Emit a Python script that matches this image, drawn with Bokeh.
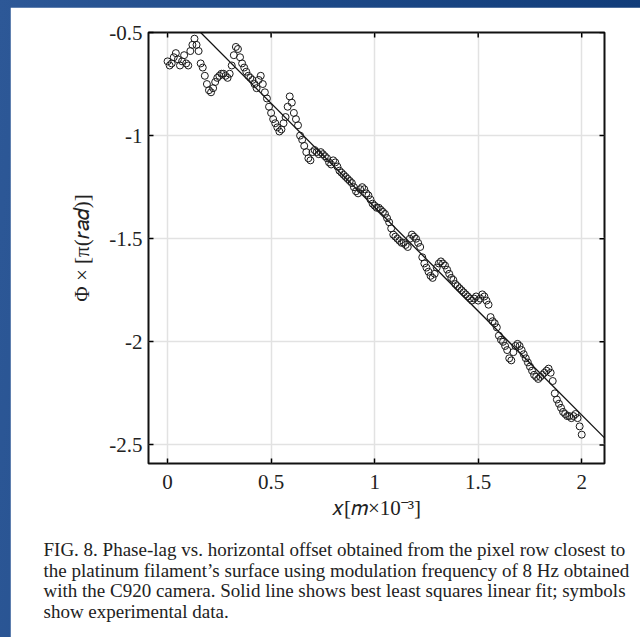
import math

from bokeh.plotting import figure
from bokeh.models import Range1d, FixedTicker, Title
from bokeh.layouts import column
from bokeh.embed import file_html
from bokeh.resources import INLINE

# Horizontal offset x [mm] and measured phase lag [units of pi rad]
offset_mm = [
    0.00, 0.01, 0.02, 0.03, 0.04, 0.05, 0.06, 0.07, 0.08, 0.09,
    0.10, 0.11, 0.12, 0.13, 0.14, 0.15, 0.16, 0.17, 0.18, 0.19,
    0.20, 0.21, 0.22, 0.23, 0.24, 0.25, 0.26, 0.27, 0.28, 0.29,
    0.30, 0.31, 0.32, 0.33, 0.34, 0.35, 0.36, 0.37, 0.38, 0.39,
    0.40, 0.41, 0.42, 0.43, 0.44, 0.45, 0.46, 0.47, 0.48, 0.49,
    0.50, 0.51, 0.52, 0.53, 0.54, 0.55, 0.56, 0.57, 0.58, 0.59,
    0.60, 0.61, 0.62, 0.63, 0.64, 0.65, 0.66, 0.67, 0.68, 0.69,
    0.70, 0.71, 0.72, 0.73, 0.74, 0.75, 0.76, 0.77, 0.78, 0.79,
    0.80, 0.81, 0.82, 0.83, 0.84, 0.85, 0.86, 0.87, 0.88, 0.89,
    0.90, 0.91, 0.92, 0.93, 0.94, 0.95, 0.96, 0.97, 0.98, 0.99,
    1.00, 1.01, 1.02, 1.03, 1.04, 1.05, 1.06, 1.07, 1.08, 1.09,
    1.10, 1.11, 1.12, 1.13, 1.14, 1.15, 1.16, 1.17, 1.18, 1.19,
    1.20, 1.21, 1.22, 1.23, 1.24, 1.25, 1.26, 1.27, 1.28, 1.29,
    1.30, 1.31, 1.32, 1.33, 1.34, 1.35, 1.36, 1.37, 1.38, 1.39,
    1.40, 1.41, 1.42, 1.43, 1.44, 1.45, 1.46, 1.47, 1.48, 1.49,
    1.50, 1.51, 1.52, 1.53, 1.54, 1.55, 1.56, 1.57, 1.58, 1.59,
    1.60, 1.61, 1.62, 1.63, 1.64, 1.65, 1.66, 1.67, 1.68, 1.69,
    1.70, 1.71, 1.72, 1.73, 1.74, 1.75, 1.76, 1.77, 1.78, 1.79,
    1.80, 1.81, 1.82, 1.83, 1.84, 1.85, 1.86, 1.87, 1.88, 1.89,
    1.90, 1.91, 1.92, 1.93, 1.94, 1.95, 1.96, 1.97, 1.98, 1.99,
    2.00,
]
phase_lag = [
    -0.64, -0.66, -0.65, -0.62, -0.60, -0.63, -0.66, -0.64, -0.61, -0.65,
    -0.66, -0.59, -0.56, -0.53, -0.56, -0.59, -0.65, -0.67, -0.71, -0.75,
    -0.78, -0.79, -0.77, -0.74, -0.72, -0.71, -0.70, -0.70, -0.71, -0.72,
    -0.70, -0.66, -0.61, -0.57, -0.58, -0.62, -0.65, -0.67, -0.69, -0.71,
    -0.72, -0.73, -0.75, -0.77, -0.73, -0.71, -0.75, -0.79, -0.82, -0.86,
    -0.89, -0.92, -0.94, -0.96, -0.98, -0.97, -0.94, -0.91, -0.86, -0.81,
    -0.84, -0.89, -0.92, -0.95, -1.00, -1.02, -1.05, -1.08, -1.11, -1.12,
    -1.08, -1.07, -1.08, -1.09, -1.08, -1.09, -1.10, -1.11, -1.13, -1.14,
    -1.12, -1.13, -1.15, -1.17, -1.18, -1.19, -1.20, -1.21, -1.22, -1.23,
    -1.25, -1.27, -1.28, -1.26, -1.25, -1.26, -1.28, -1.29, -1.31, -1.33,
    -1.34, -1.35, -1.35, -1.36, -1.37, -1.38, -1.40, -1.42, -1.45, -1.48,
    -1.49, -1.50, -1.51, -1.52, -1.52, -1.53, -1.54, -1.50, -1.48, -1.49,
    -1.50, -1.52, -1.54, -1.59, -1.62, -1.64, -1.66, -1.68, -1.69, -1.67,
    -1.64, -1.62, -1.61, -1.62, -1.63, -1.65, -1.67, -1.69, -1.70, -1.72,
    -1.73, -1.74, -1.75, -1.76, -1.77, -1.78, -1.79, -1.80, -1.79, -1.78,
    -1.80, -1.79, -1.77, -1.78, -1.80, -1.82, -1.88, -1.90, -1.91, -1.93,
    -1.97, -1.99, -2.00, -2.02, -2.04, -2.08, -2.09, -2.05, -2.02, -2.01,
    -2.02, -2.04, -2.06, -2.08, -2.10, -2.12, -2.14, -2.16, -2.17, -2.18,
    -2.17, -2.16, -2.15, -2.14, -2.13, -2.15, -2.19, -2.25, -2.28, -2.30,
    -2.32, -2.34, -2.35, -2.36, -2.36, -2.37, -2.36, -2.35, -2.37, -2.41,
    -2.45,
]

# Least squares linear fit: phase = fit_intercept + fit_slope * x
fit_slope = -1.008
fit_intercept = -0.339

x_ticks = [0, 0.5, 1, 1.5, 2]
x_tick_labels = ["0", "0.5", "1", "1.5", "2"]
y_ticks = [-2.5, -2, -1.5, -1, -0.5]
y_tick_labels = ["-2.5", "-2", "-1.5", "-1", "-0.5"]

x_label = "\U0001D465[\U0001D45A×10⁻³]"
y_label = "Φ × [π(\U0001D45F\U0001D44E\U0001D451)]"
caption = (
    "FIG. 8. Phase-lag vs. horizontal offset obtained from the pixel row closest to\n"
    "the platinum filament’s surface using modulation frequency of 8 Hz obtained\n"
    "with the C920 camera. Solid line shows best least squares linear fit; symbols\n"
    "show experimental data."
)

SERIF = "Liberation Serif"

x_range = Range1d(-0.092, 2.11)
y_range = Range1d(-2.59, -0.5)

p = figure(
    width=630, height=630,
    x_range=x_range, y_range=y_range,
    output_backend="svg", toolbar_location=None,
    min_border_left=138, min_border_right=36,
    min_border_top=25, min_border_bottom=174,
    margin=(7, 0, 0, 10),
    background_fill_color="white", border_fill_color="white",
)
p.outline_line_color = "#111111"
p.outline_line_width = 2

# light grid at the major ticks
p.xgrid.ticker = FixedTicker(ticks=x_ticks)
p.ygrid.ticker = FixedTicker(ticks=y_ticks)
p.grid.grid_line_color = "#e2e2e2"
p.grid.grid_line_width = 1.5

def style_axis(ax, ticks, labels):
    ax.ticker = FixedTicker(ticks=ticks)
    ax.major_label_overrides = {t: s for t, s in zip(ticks, labels)}
    ax.axis_line_color = None
    ax.major_tick_in = 5
    ax.major_tick_out = 0
    ax.major_tick_line_color = "black"
    ax.major_tick_line_width = 1.5
    ax.minor_tick_line_color = None
    ax.major_label_text_font = SERIF
    ax.major_label_text_font_size = "21px"
    ax.major_label_text_color = "#222222"
    ax.axis_label_text_font = SERIF
    ax.axis_label_text_font_size = "21px"
    ax.axis_label_text_font_style = "normal"
    ax.axis_label_text_color = "#222222"

style_axis(p.xaxis[0], x_ticks, x_tick_labels)
style_axis(p.yaxis[0], y_ticks, y_tick_labels)
p.xaxis.axis_label = x_label
p.yaxis.axis_label = y_label
p.xaxis.major_label_standoff = 11
p.xaxis.axis_label_standoff = 4
p.yaxis.major_label_standoff = 6
p.yaxis.axis_label_standoff = 12

# mirrored inward ticks on the top and right edges of the box
# (a dash centred on the edge; the outer half is clipped by the frame)
p.scatter(x_ticks, [y_range.end] * len(x_ticks), marker="dash", angle=math.pi / 2,
          size=10, line_color="black", line_width=1.5)
p.scatter([x_range.end] * len(y_ticks), y_ticks, marker="dash", angle=0,
          size=10, line_color="black", line_width=1.5)

# fitted line across the whole x range
fit_x = [x_range.start, x_range.end]
fit_y = [fit_intercept + fit_slope * v for v in fit_x]
p.line(fit_x, fit_y, line_color="#111111", line_width=1.3)

# experimental points as open circles
p.scatter(offset_mm, phase_lag, marker="circle", size=7,
          fill_alpha=0, line_color="#1a1a1a", line_width=1)

p.add_layout(Title(
    text=caption, align="left", offset=-105, standoff=29,
    text_font=SERIF, text_font_size="19px", text_font_style="normal",
    text_color="#222222", text_line_height=0.98,
), "below")

page = column(
    p,
    styles={"background": "linear-gradient(95deg, #2d5897 0%, #1d4987 45%, #0f3a77 100%)"},
)

open("out.html", "w").write(file_html(page, INLINE, "Phase-lag vs. horizontal offset"))
